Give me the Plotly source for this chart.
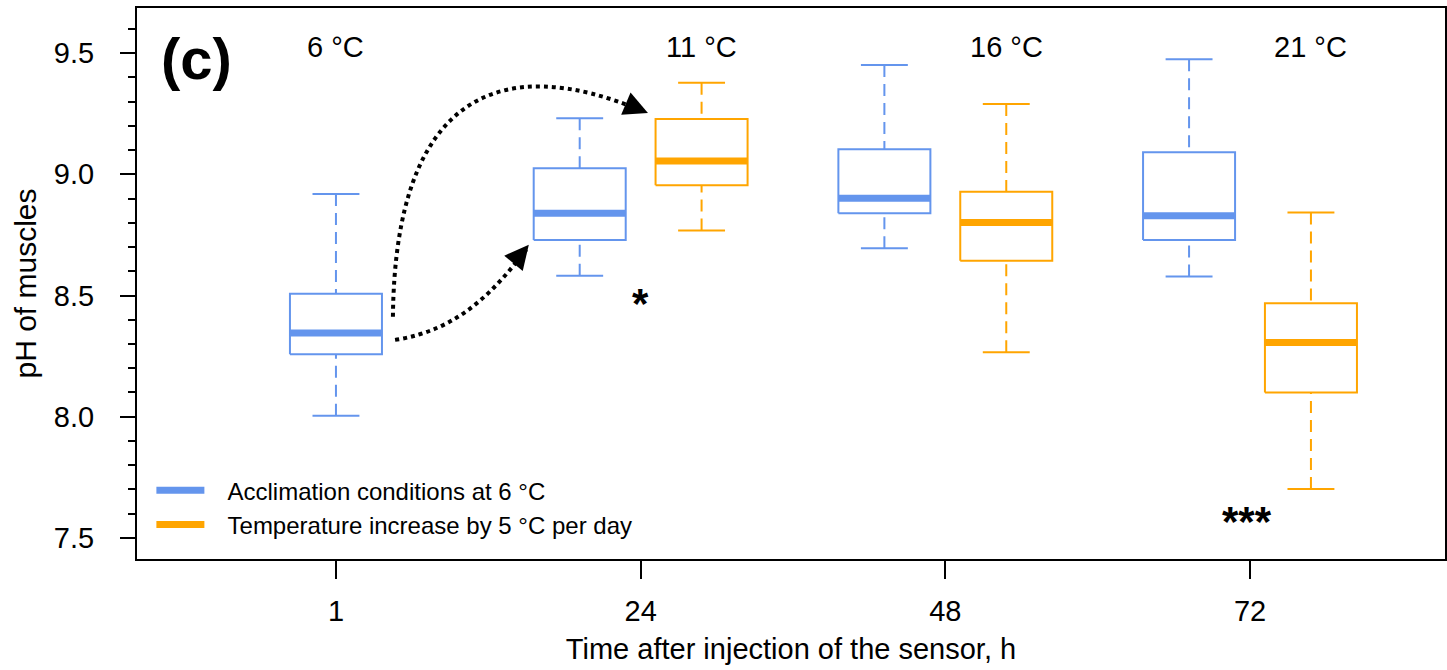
import plotly.graph_objects as go

# ---------------- data ----------------
time_labels = ["1", "24", "48", "72"]
temp_labels = ["6 °C", "11 °C", "16 °C", "21 °C"]

# Acclimation conditions at 6 °C (blue), one box per time point
ctrl_upper = [8.919, 9.231, 9.451, 9.475]
ctrl_q3 = [8.507, 9.025, 9.103, 9.091]
ctrl_median = [8.345, 8.839, 8.901, 8.829]
ctrl_q1 = [8.258, 8.729, 8.839, 8.729]
ctrl_lower = [8.004, 8.581, 8.695, 8.578]

# Temperature increase by 5 °C per day (orange), time points 24, 48, 72
heat_upper = [9.378, 9.290, 8.842]
heat_q3 = [9.228, 8.928, 8.468]
heat_median = [9.055, 8.801, 8.306]
heat_q1 = [8.955, 8.643, 8.100]
heat_lower = [8.768, 8.266, 7.702]

significance = ["", "*", "", "***"]

# ---------------- style ----------------
BLUE = "#6495ED"
ORANGE = "#FFA500"
FONT = "Liberation Sans, Arial, sans-serif"
OFFSET = 0.2      # dodge of paired boxes
HALF_W = 0.151    # half box width
CAP_W = 0.077     # half staple width
GAP = "\u00a0\u00a0\u2009"

ctrl_pos = [i - OFFSET if i > 0 else i for i in range(len(time_labels))]
heat_pos = [i + OFFSET for i in range(1, len(time_labels))]


def box_traces(xs, lo, q1, med, q3, hi, color):
    rx, ry, mx, my, wx, wy, cx, cy = [], [], [], [], [], [], [], []
    for x, a, b, m, c, d in zip(xs, lo, q1, med, q3, hi):
        rx += [x - HALF_W, x + HALF_W, x + HALF_W, x - HALF_W, x - HALF_W, None]
        ry += [b, b, c, c, b, None]
        mx += [x - HALF_W, x + HALF_W, None]
        my += [m, m, None]
        wx += [x, x, None, x, x, None]
        wy += [d, c, None, a, b, None]
        cx += [x - CAP_W, x + CAP_W, None, x - CAP_W, x + CAP_W, None]
        cy += [d, d, None, a, a, None]
    common = dict(mode="lines", showlegend=False, hoverinfo="skip")
    return [
        go.Scatter(x=wx, y=wy, line=dict(color=color, width=2, dash="12px,7px"), **common),
        go.Scatter(x=cx, y=cy, line=dict(color=color, width=2), **common),
        go.Scatter(x=rx, y=ry, line=dict(color=color, width=2), fill="toself",
                   fillcolor="white", **common),
        go.Scatter(x=mx, y=my, line=dict(color=color, width=7), **common),
    ]


fig = go.Figure()
for t in box_traces(ctrl_pos, ctrl_lower, ctrl_q1, ctrl_median, ctrl_q3, ctrl_upper, BLUE):
    fig.add_trace(t)
for t in box_traces(heat_pos, heat_lower, heat_q1, heat_median, heat_q3, heat_upper, ORANGE):
    fig.add_trace(t)

# legend entries
fig.add_trace(go.Scatter(x=[None], y=[None], mode="lines",
                         name=GAP + "Acclimation conditions at 6 °C",
                         line=dict(color=BLUE, width=7)))
fig.add_trace(go.Scatter(x=[None], y=[None], mode="lines",
                         name=GAP + "Temperature increase by 5 °C per day",
                         line=dict(color=ORANGE, width=7)))

annotations = []
# temperature labels above each time point
temp_x = [ctrl_pos[0]] + heat_pos
for x, lab in zip(temp_x, temp_labels):
    annotations.append(dict(x=x, y=9.525, xref="x", yref="y", text=lab, showarrow=False,
                            font=dict(size=29, color="black", family=FONT),
                            xanchor="center", yanchor="middle"))
# significance stars
star_y = {1: 8.465, 3: 7.567}
for i, s in enumerate(significance):
    if s:
        annotations.append(dict(x=i - 0.01 * (i == 3), y=star_y[i], xref="x", yref="y",
                                text="<b>" + s + "</b>",
                                showarrow=False, font=dict(size=42, color="black", family=FONT),
                                xanchor="center", yanchor="middle"))
# panel label
annotations.append(dict(x=0.017, y=0.909, xref="paper", yref="paper", text="<b>(c)</b>",
                        showarrow=False, font=dict(size=58, color="black", family=FONT),
                        xanchor="left", yanchor="middle"))
# arrowheads
annotations.append(dict(x=1.024, y=9.253, xref="x", yref="y", ax=-18.4, ay=-7.8,
                        text="", showarrow=True, arrowhead=2, arrowsize=2.4, arrowwidth=2,
                        arrowcolor="black"))
annotations.append(dict(x=0.633, y=8.709, xref="x", yref="y", ax=-12.8, ay=15.4,
                        text="", showarrow=True, arrowhead=2, arrowsize=2.4, arrowwidth=2,
                        arrowcolor="black"))

shapes = [
    dict(type="path", xref="x", yref="y",
         path="M 0.187,8.412 C 0.194,9.327 0.538,9.512 1.010,9.259",
         line=dict(color="black", width=4, dash="dot")),
    dict(type="path", xref="x", yref="y",
         path="M 0.194,8.317 C 0.407,8.358 0.522,8.523 0.625,8.690",
         line=dict(color="black", width=4, dash="dot")),
]

fig.update_layout(
    width=1447, height=670,
    margin=dict(l=137, r=2, t=8, b=111),
    plot_bgcolor="white", paper_bgcolor="white",
    font=dict(family=FONT, size=29, color="black"),
    annotations=annotations,
    shapes=shapes,
    showlegend=True,
    legend=dict(x=0.011, y=0.165, xanchor="left", yanchor="top",
                font=dict(size=24, family=FONT, color="black"),
                bgcolor="rgba(0,0,0,0)", itemwidth=48, tracegroupgap=0),
    xaxis=dict(range=[-0.653, 3.640], tickvals=list(range(len(time_labels))), ticktext=time_labels,
               showline=True, mirror=True, linecolor="black", linewidth=2,
               ticks="outside", ticklen=18, tickwidth=2, tickcolor="black",
               showgrid=False, zeroline=False, ticklabelstandoff=7, automargin=False,
               tickfont=dict(size=29),
               title=dict(text="Time after injection of the sensor, h", standoff=13,
                          font=dict(size=29))),
    yaxis=dict(range=[7.413, 9.686], tickvals=[7.5, 8.0, 8.5, 9.0, 9.5], tickformat=".1f",
               showline=True, mirror=True, linecolor="black", linewidth=2,
               ticks="outside", ticklen=15, tickwidth=2, tickcolor="black",
               minor=dict(dtick=0.1, tick0=0, ticks="outside", ticklen=7, tickwidth=2,
                          tickcolor="black", showgrid=False),
               showgrid=False, zeroline=False, ticklabelstandoff=20, automargin=False,
               tickfont=dict(size=29),
               title=dict(text="pH of muscles", standoff=8, font=dict(size=30))),
)

fig.write_html("out.html", config={"displayModeBar": False},
               post_script="document.body.style.margin='0';")
